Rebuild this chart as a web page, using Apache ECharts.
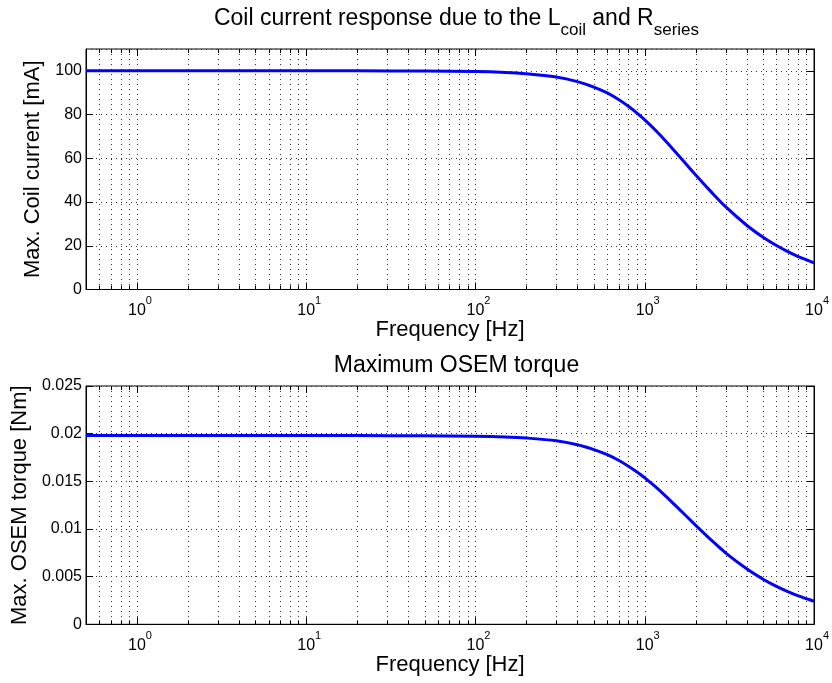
<!DOCTYPE html>
<html><head><meta charset="utf-8">
<script src="https://cdn.jsdelivr.net/npm/echarts@6/dist/echarts.min.js"></script>
<style>html,body{margin:0;padding:0;background:#fff}#c{width:832px;height:683px}</style>
</head><body><div id="c"></div>
<script>
// ---- data ----
const freqs = [0.5, 1, 2, 5, 10, 20, 50, 100, 150, 200, 300, 400, 500, 600, 700, 800, 900, 1000, 1200, 1500, 2000, 2500, 3000, 4000, 5000, 6000, 7000, 8000, 9000, 10000];
const currentMA = [100, 100, 100, 100, 100, 100, 99.9, 99.7, 99.3, 98.7, 97.2, 95.1, 92.6, 89.9, 86.9, 83.8, 80.7, 77.6, 71.6, 63.4, 52.4, 44.2, 37.9, 29.4, 23.9, 20.1, 17.3, 15.2, 13.6, 12.2];
const torqueNm = [0.0198, 0.0198, 0.0198, 0.0198, 0.0198, 0.0198, 0.01978, 0.01974, 0.01966, 0.01954, 0.01925, 0.01883, 0.01833, 0.0178, 0.01721, 0.01659, 0.01598, 0.01536, 0.01418, 0.01255, 0.01038, 0.00875, 0.0075, 0.00582, 0.00473, 0.00398, 0.00343, 0.00301, 0.00269, 0.00242];
const majorGridFreqs = [1, 10, 100, 1000];
const minorGridFreqs = [0.6, 0.7, 0.8, 0.9, 2, 3, 4, 5, 6, 7, 8, 9, 20, 30, 40, 50, 60, 70, 80, 90, 200, 300, 400, 500, 600, 700, 800, 900, 2000, 3000, 4000, 5000, 6000, 7000, 8000, 9000];
const topTitleParts = ['Coil current response due to the L', 'coil', ' and R', 'series'];
const bottomTitle = 'Maximum OSEM torque';
const xName = 'Frequency [Hz]';
const yNames = ['Max. Coil current [mA]', 'Max. OSEM torque [Nm]'];
const yRanges = [[0, 110, 20], [0, 0.025, 0.005]];

// ---- chart ----
const FF = "'Liberation Sans', Arial, Helvetica, sans-serif";
const chart = echarts.init(document.getElementById('c'), null, {renderer: 'canvas'});

function xFmt(v) {
  const k = Math.round(Math.log10(v));
  if (Math.abs(v - Math.pow(10, k)) / Math.pow(10, k) > 1e-6) return '';
  return '{p| }{b|10}{s|' + k + '}';
}
const xRich = {
  p: {width: 6, fontSize: 11, lineHeight: 11, verticalAlign: 'top'},
  b: {fontSize: 16, lineHeight: 23, verticalAlign: 'bottom', color: '#000', fontFamily: FF},
  s: {fontSize: 11, lineHeight: 11, verticalAlign: 'top', color: '#000', fontFamily: FF}
};

const grids = [
  {left: 86, width: 731, top: 49, height: 240.5},
  {left: 86, width: 731, top: 386, height: 238.3}
];

function makeX(i) {
  return {
    type: 'log', logBase: 10, gridIndex: i, min: 0.5, max: 10000,
    axisLine: {show: true, lineStyle: {color: '#000', width: 1}},
    axisTick: {show: false}, minorTick: {show: false},
    splitLine: {show: false}, minorSplitLine: {show: false},
    axisLabel: {formatter: xFmt, margin: 6, rich: xRich, color: '#000', showMinLabel: false},
    name: xName, nameLocation: 'middle', nameGap: 29,
    nameTextStyle: {fontSize: 22, color: '#000', fontFamily: FF}
  };
}
function makeYLeft(i, gap) {
  const r = yRanges[i];
  return {
    type: 'value', gridIndex: i, min: r[0], max: r[1], interval: r[2], position: 'left',
    axisLine: {show: true, lineStyle: {color: '#000', width: 1}},
    axisTick: {show: true, inside: true, length: 7, lineStyle: {color: '#000'}},
    splitLine: {show: true, lineStyle: {color: '#333', width: 1, type: [1, 4]}},
    axisLabel: {margin: 4, fontSize: 16, color: '#000', fontFamily: FF, showMaxLabel: i === 1},
    name: yNames[i], nameLocation: 'middle', nameGap: gap,
    nameTextStyle: {fontSize: 22, color: '#000', fontFamily: FF}
  };
}
function makeYRight(i) {
  const r = yRanges[i];
  return {
    type: 'value', gridIndex: i, min: r[0], max: r[1], interval: r[2], position: 'right',
    axisLine: {show: true, lineStyle: {color: '#000', width: 1}},
    axisTick: {show: true, inside: true, length: 7, lineStyle: {color: '#000'}},
    splitLine: {show: false}, axisLabel: {show: false}
  };
}

const gridData = majorGridFreqs.map(f => [f, 1]).concat(minorGridFreqs.map(f => [f, 0]));
function gridRender(params, api) {
  const f = api.value(0);
  const major = api.value(1) === 1;
  const cs = params.coordSys;
  const x = Math.round(api.coord([f, 0])[0]) + 0.5;
  const top = cs.y, bot = cs.y + cs.height;
  const tl = major ? 7 : 4;
  return {
    type: 'group', silent: true,
    children: [
      {type: 'line', shape: {x1: x, y1: top, x2: x, y2: bot}, style: {stroke: '#333', lineWidth: 1, lineDash: [1, 4]}},
      {type: 'line', shape: {x1: x, y1: bot, x2: x, y2: bot - tl}, style: {stroke: '#000', lineWidth: 1}},
      {type: 'line', shape: {x1: x, y1: top, x2: x, y2: top + tl}, style: {stroke: '#000', lineWidth: 1}}
    ]
  };
}

const option = {
  backgroundColor: '#fff',
  animation: false,
  title: [
    {
      text: '{m|' + topTitleParts[0] + '}{s|' + topTitleParts[1] + '}{m|' + topTitleParts[2] + '}{s|' + topTitleParts[3] + '}',
      left: 451.5, top: 2, textAlign: 'center',
      textStyle: {
        fontWeight: 'normal',
        rich: {
          m: {fontSize: 23, lineHeight: 26, verticalAlign: 'top', color: '#000', fontFamily: FF, fontWeight: 'normal'},
          s: {fontSize: 17, lineHeight: 32, verticalAlign: 'bottom', color: '#000', fontFamily: FF, fontWeight: 'normal'}
        }
      }
    },
    {
      text: bottomTitle, left: 451.5, top: 349, textAlign: 'center',
      textStyle: {fontSize: 23, lineHeight: 23, fontWeight: 'normal', color: '#000', fontFamily: FF}
    }
  ],
  grid: grids.map(g => Object.assign({show: true, borderColor: '#000', borderWidth: 1, backgroundColor: 'transparent'}, g)),
  xAxis: [makeX(0), makeX(1)],
  yAxis: [makeYLeft(0, 41), makeYLeft(1, 53), makeYRight(0), makeYRight(1)],
  series: [
    {type: 'custom', xAxisIndex: 0, yAxisIndex: 0, data: gridData, renderItem: gridRender, clip: false, silent: true, z: 1, encode: {x: 0}},
    {type: 'custom', xAxisIndex: 1, yAxisIndex: 1, data: gridData, renderItem: gridRender, clip: false, silent: true, z: 1, encode: {x: 0}},
    {type: 'line', xAxisIndex: 0, yAxisIndex: 0, data: freqs.map((f, i) => [f, currentMA[i]]),
      showSymbol: false, smooth: 0.3, lineStyle: {color: '#0000ff', width: 3}, itemStyle: {color: '#0000ff'}, z: 5},
    {type: 'line', xAxisIndex: 1, yAxisIndex: 1, data: freqs.map((f, i) => [f, torqueNm[i]]),
      showSymbol: false, smooth: 0.3, lineStyle: {color: '#0000ff', width: 3}, itemStyle: {color: '#0000ff'}, z: 5}
  ]
};
chart.setOption(option);
</script>
</body></html>
